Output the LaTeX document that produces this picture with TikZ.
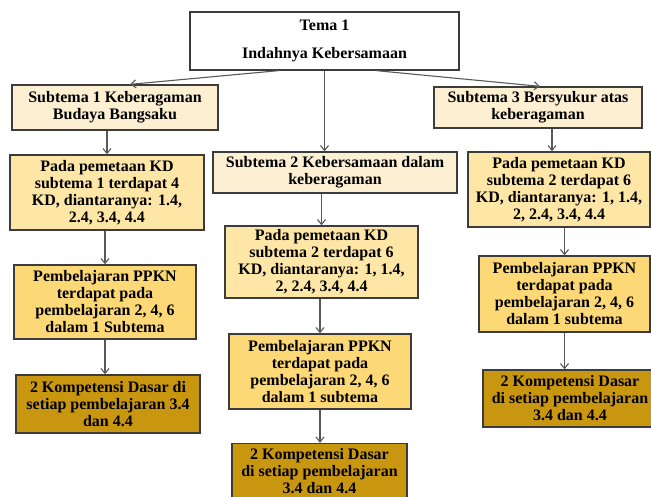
\documentclass[tikz,border=0pt]{standalone}
\usepackage{fontspec}
\setmainfont{Liberation Serif}
\usepackage{tikz}
\usetikzlibrary{arrows.meta}
\definecolor{Krem}{RGB}{252,239,210}
\definecolor{Kuning}{RGB}{253,230,166}
\definecolor{Jingga}{RGB}{252,216,118}
\definecolor{Emas}{RGB}{200,151,15}
\definecolor{Garis}{RGB}{60,60,60}
\tikzset{
  kotak/.style={draw=Garis,line width=1.3pt,align=center,inner sep=0pt,
    font=\fontsize{16}{17}\selectfont\bfseries},
  panah/.style={-{Straight Barb[length=5pt,width=8pt]},line width=1.1pt,draw=Garis!85}
}

\begin{document}
\begin{tikzpicture}[x=1pt,y=-1pt]
\useasboundingbox (0,0) rectangle (651,497);
\clip (0,0) rectangle (651,497);
% tema
\node[kotak,fill=white,minimum width=269pt,minimum height=58pt] (tema) at (324.5,41)
  {Tema 1\\[11pt]Indahnya Kebersamaan};
% subtema
\node[kotak,fill=Krem,minimum width=206pt,minimum height=45pt] (sub1) at (115,107.5)
  {Subtema 1 Keberagaman\\Budaya Bangsaku};
\node[kotak,fill=Krem,minimum width=244pt,minimum height=41pt] (sub2) at (335,172.5)
  {Subtema 2 Kebersamaan dalam\\keberagaman};
\node[kotak,fill=Krem,minimum width=208pt,minimum height=41pt] (sub3) at (538,107.5)
  {Subtema 3 Bersyukur atas\\keberagaman};
% pemetaan KD
\node[kotak,fill=Kuning,minimum width=194pt,minimum height=75pt] (pada1) at (107,192.5)
  {Pada pemetaan KD\\subtema 1 terdapat 4\\KD, diantaranya: 1.4,\\2.4, 3.4, 4.4};
\node[kotak,fill=Kuning,minimum width=193pt,minimum height=72pt] (pada2) at (321.5,262)
  {Pada pemetaan KD\\subtema 2 terdapat 6\\KD, diantaranya: 1, 1.4,\\2, 2.4, 3.4, 4.4};
\node[kotak,fill=Kuning,minimum width=182pt,minimum height=75pt] (pada3) at (559,189.5)
  {Pada pemetaan KD\\subtema 2 terdapat 6\\KD, diantaranya: 1, 1.4,\\2, 2.4, 3.4, 4.4};
% pembelajaran
\node[kotak,fill=Jingga,minimum width=182pt,minimum height=74pt] (pemb1) at (105,302)
  {Pembelajaran PPKN\\terdapat pada\\pembelajaran 2, 4, 6\\dalam 1 Subtema};
\node[kotak,fill=Jingga,minimum width=182pt,minimum height=75pt] (pemb2) at (320,371.5)
  {Pembelajaran PPKN\\terdapat pada\\pembelajaran 2, 4, 6\\dalam 1 subtema};
\node[kotak,fill=Jingga,minimum width=171pt,minimum height=76pt] (pemb3) at (564.5,294)
  {Pembelajaran PPKN\\terdapat pada\\pembelajaran 2, 4, 6\\dalam 1 subtema};
% kompetensi dasar
\node[kotak,fill=Emas,minimum width=184pt,minimum height=58pt] (kd1) at (108,404)
  {2 Kompetensi Dasar di\\setiap pembelajaran 3.4\\dan 4.4};
\node[kotak,fill=Emas,minimum width=175pt,minimum height=55pt] (kd2) at (319.5,471)
  {2 Kompetensi Dasar\\di setiap pembelajaran\\3.4 dan 4.4};
\node[kotak,fill=Emas,minimum width=174pt,minimum height=57pt] (kd3) at (570,398.5)
  {2 Kompetensi Dasar\\di setiap pembelajaran\\3.4 dan 4.4};
% panah dari tema
\draw[panah] ([xshift=-46pt]tema.south) -- ([xshift=15pt]sub1.north);
\draw[panah] (tema.south) -- (tema.south |- sub2.north);
\draw[panah] ([xshift=52pt]tema.south) -- ([xshift=2pt]sub3.north);
% panah kolom kiri
\draw[panah] (sub1.south -| pada1.north) -- (pada1.north);
\draw[panah] (pada1.south -| pemb1.north) -- (pemb1.north);
\draw[panah] (pemb1.south) -- (pemb1.south |- kd1.north);
% panah kolom tengah
\draw[panah] (sub2.south -| pada2.north) -- (pada2.north);
\draw[panah] (pada2.south -| pemb2.north) -- (pemb2.north);
\draw[panah] (pemb2.south) -- (pemb2.south |- kd2.north);
% panah kolom kanan
\draw[panah] ([xshift=14pt]sub3.south) -- ([xshift=14pt]sub3.south |- pada3.north);
\draw[panah] (pada3.south -| pemb3.north) -- (pemb3.north);
\draw[panah] (pemb3.south) -- (pemb3.south |- kd3.north);
\end{tikzpicture}
\end{document}
